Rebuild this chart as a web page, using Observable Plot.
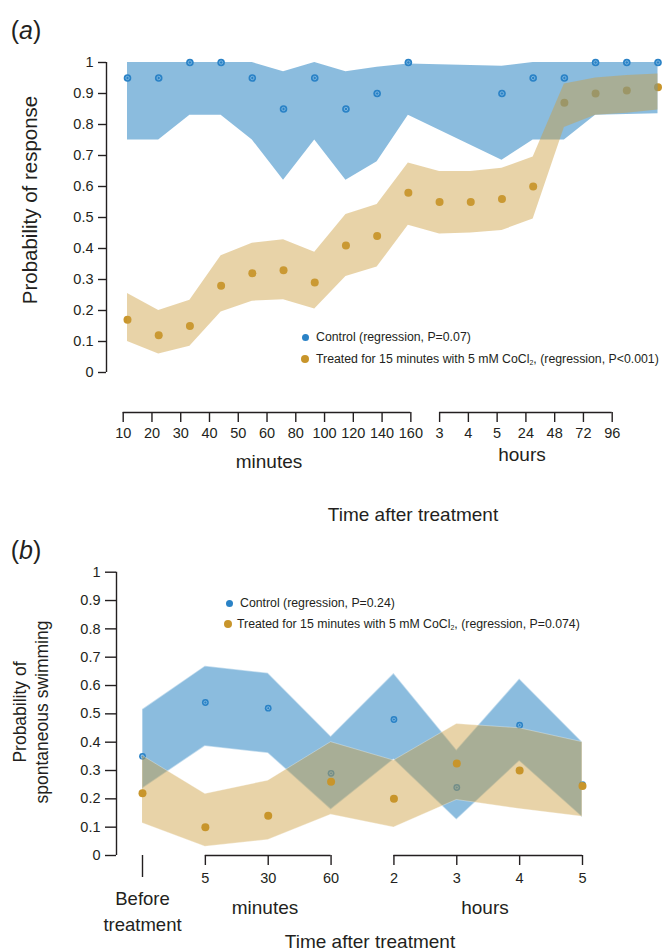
<!DOCTYPE html>
<html><head><meta charset="utf-8">
<script src="https://cdn.jsdelivr.net/npm/d3@7"></script>
<script src="https://cdn.jsdelivr.net/npm/@observablehq/plot@0.6"></script>
<style>
body{margin:0;background:#fff;}
#fig{position:relative;width:670px;height:952px;overflow:hidden;font-family:"Liberation Sans",Arial,Helvetica,sans-serif;color:#231f20;background:#fff;}
.lbl{position:absolute;transform:translate(-50%,-50%);white-space:nowrap;}
.ltxt{position:absolute;transform:translateY(-50%);white-space:nowrap;font-size:12.3px;}
.dot{position:absolute;border-radius:50%;}
.wrap{position:absolute;left:0;width:670px;}
.rot{position:absolute;transform:translate(-50%,-50%) rotate(-90deg);white-space:nowrap;text-align:center;}
sub{font-size:7px;vertical-align:-2px;line-height:0;}
</style></head><body><div id="fig"></div><script>
// ---------- Panel (a) data ----------
const keysA = ["10 min","20 min","30 min","40 min","50 min","60 min","80 min","100 min","120 min","140 min","160 min","3 h","4 h","5 h","24 h","48 h","72 h","96 h"];
const blueA   = [0.95,0.95,1.00,1.00,0.95,0.85,0.95,0.85,0.90,1.00,null,null,0.90,0.95,0.95,1.00,1.00,1.00];
const blueLoA = [0.75,0.75,0.83,0.83,0.75,0.62,0.75,0.62,0.68,0.83,null,null,0.685,0.75,0.75,0.83,0.832,0.835];
const blueHiA = [1.00,1.00,1.00,1.00,1.00,0.97,1.00,0.97,0.985,0.995,null,null,0.988,1.00,1.00,1.00,1.00,1.00];
const goldA   = [0.17,0.12,0.15,0.28,0.32,0.33,0.29,0.41,0.44,0.58,0.55,0.55,0.56,0.60,0.87,0.90,0.91,0.92];
const goldLoA = [0.10,0.06,0.085,0.195,0.23,0.235,0.205,0.31,0.34,0.475,0.447,0.45,0.458,0.495,0.79,0.83,0.836,0.847];
const goldHiA = [0.255,0.20,0.233,0.377,0.417,0.428,0.388,0.51,0.542,0.676,0.648,0.648,0.659,0.695,0.931,0.95,0.958,0.963];
const minutesA = ["10","20","30","40","50","60","80","100","120","140","160"];
const hoursA = ["3","4","5","24","48","72","96"];
const yTicks = [0,0.1,0.2,0.3,0.4,0.5,0.6,0.7,0.8,0.9,1];

// ---------- Panel (b) data ----------
const keysB = ["Before","5 min","30 min","60 min","2 h","3 h","4 h","5 h"];
const tickLabelsB = ["Before\ntreatment","5","30","60","2","3","4","5"];
const blueB   = [0.35,0.54,0.52,0.29,0.48,0.24,0.46,0.25];
const blueLoB = [0.235,0.385,0.36,0.161,0.338,0.125,0.332,0.134];
const blueHiB = [0.515,0.668,0.643,0.42,0.642,0.372,0.623,0.40];
const goldB   = [0.22,0.10,0.14,0.26,0.20,0.325,0.30,0.245];
const goldLoB = [0.114,0.031,0.055,0.144,0.099,0.196,0.164,0.137];
const goldHiB = [0.352,0.217,0.264,0.40,0.335,0.464,0.449,0.40];

// ---------- styles ----------
const ink = "#231f20";
const blueBand = "#3e8fc8", goldBand = "#cc9e3e";
const bluePt = "#2a82c6", bluePtIn = "#8cc0e6", goldPt = "#c8952b";
const fmt = d => (d === 0 || d === 1) ? String(d) : d.toFixed(1);
const font = {fontFamily: "Liberation Sans, Arial, sans-serif"};

const fig = document.getElementById("fig");
function place(el, top) {
  const w = document.createElement("div");
  w.className = "wrap"; w.style.top = top + "px";
  el.style.background = "transparent";
  w.appendChild(el); fig.appendChild(w);
}
function html(s) { fig.insertAdjacentHTML("beforeend", s); }

// ---------- Panel (a) ----------
const tableA = keysA.map((k, i) => ({k, blue: blueA[i], blueLo: blueLoA[i], blueHi: blueHiA[i], gold: goldA[i], goldLo: goldLoA[i], goldHi: goldHiA[i]}));
const blueRowsA = tableA.filter(d => d.blue != null);

place(Plot.plot({
  width: 670, height: 400,
  marginTop: 62, marginBottom: 28, marginLeft: 106, marginRight: 12.5, insetLeft: 21,
  x: {type: "point", domain: keysA, padding: 0, round: false, axis: null},
  y: {domain: [0, 1]},
  style: font,
  marks: [
    Plot.dot(tableA, {x: "k", y: "gold", r: 4, fill: goldPt}),
    Plot.areaY(blueRowsA, {x: "k", y1: "blueLo", y2: "blueHi", fill: blueBand, fillOpacity: 0.6}),
    Plot.dot(blueRowsA, {x: "k", y: "blue", r: 3.8, fill: bluePt}),
    Plot.dot(blueRowsA, {x: "k", y: "blue", r: 1.7, stroke: bluePtIn, strokeWidth: 0.8}),
    Plot.areaY(tableA, {x: "k", y1: "goldLo", y2: "goldHi", fill: goldBand, fillOpacity: 0.45}),
    Plot.ruleX([keysA[0]], {y1: 0, y2: 1, dx: -21, stroke: ink, strokeWidth: 1.4}),
    Plot.axisY(yTicks, {tickSize: 8, tickPadding: 5, tickFormat: fmt, fontSize: 14.5, stroke: ink, fill: ink, strokeWidth: 1.4, label: null})
  ]
}), 0);

const groupsA = [{from: minutesA[0], to: minutesA[minutesA.length - 1]}, {from: hoursA[0], to: hoursA[hoursA.length - 1]}];
place(Plot.plot({
  width: 670, height: 60,
  marginTop: 0, marginBottom: 38, marginLeft: 122.7, marginRight: 58.3,
  x: {type: "point", domain: [...minutesA, ...hoursA], padding: 0, round: false},
  y: {domain: [0, 1], axis: null},
  style: font,
  marks: [
    Plot.ruleY(groupsA, {x1: "from", x2: "to", y: 0, stroke: ink, strokeWidth: 1.4}),
    Plot.axisX({tickSize: 10, tickPadding: 5, fontSize: 14.5, stroke: ink, fill: ink, strokeWidth: 1.4, label: null})
  ]
}), 390);

html(`<div class="lbl" style="left:26px;top:30px;font-size:25px;">(<i>a</i>)</div>`);
html(`<div class="rot" style="left:30px;top:200px;font-size:20.5px;">Probability of response</div>`);
html(`<div class="lbl" style="left:269px;top:462px;font-size:19px;">minutes</div>`);
html(`<div class="lbl" style="left:522px;top:455px;font-size:19px;">hours</div>`);
html(`<div class="lbl" style="left:413px;top:515px;font-size:19px;">Time after treatment</div>`);
html(`<div class="dot" style="left:301.5px;top:333.5px;width:7px;height:7px;background:${bluePt};"></div>`);
html(`<div class="ltxt" style="left:316px;top:337px;">Control (regression, P=0.07)</div>`);
html(`<div class="dot" style="left:301px;top:354.5px;width:8px;height:8px;background:${goldPt};"></div>`);
html(`<div class="ltxt" style="left:316px;top:359px;">Treated for 15 minutes with 5 mM CoCl<sub>2</sub>, (regression, P&lt;0.001)</div>`);

// ---------- Panel (b) ----------
const tableB = keysB.map((k, i) => ({k, blue: blueB[i], blueLo: blueLoB[i], blueHi: blueHiB[i], gold: goldB[i], goldLo: goldLoB[i], goldHi: goldHiB[i], label: tickLabelsB[i]}));
const groupsB = [{from: keysB[1], to: keysB[3]}, {from: keysB[4], to: keysB[7]}];
const labelOf = new Map(keysB.map((k, i) => [k, tickLabelsB[i]]));

place(Plot.plot({
  width: 670, height: 412,
  marginTop: 31.7, marginBottom: 97, marginLeft: 116, marginRight: 88, insetLeft: 26,
  x: {type: "point", domain: keysB, padding: 0, round: false},
  y: {domain: [0, 1]},
  style: font,
  marks: [
    Plot.areaY(tableB, {x: "k", y1: "blueLo", y2: "blueHi", fill: blueBand, fillOpacity: 0.6, stroke: "white", strokeOpacity: 0.45, strokeWidth: 1.5}),
    Plot.dot(tableB, {x: "k", y: "blue", r: 3.4, fill: bluePt}),
    Plot.dot(tableB, {x: "k", y: "blue", r: 1.5, stroke: bluePtIn, strokeWidth: 0.8}),
    Plot.areaY(tableB, {x: "k", y1: "goldLo", y2: "goldHi", fill: goldBand, fillOpacity: 0.45, stroke: "white", strokeOpacity: 0.3, strokeWidth: 1}),
    Plot.dot(tableB, {x: "k", y: "gold", r: 4, fill: goldPt}),
    Plot.ruleX([keysB[0]], {y1: 0, y2: 1, dx: -26, stroke: ink, strokeWidth: 1.4}),
    Plot.axisY(yTicks, {tickSize: 11, tickPadding: 5, tickFormat: fmt, fontSize: 14.5, stroke: ink, fill: ink, strokeWidth: 1.4, label: null}),
    Plot.ruleY(groupsB, {x1: "from", x2: "to", y: 0, stroke: ink, strokeWidth: 1.4}),
    Plot.axisX(keysB.slice(1), {tickSize: 10, tickPadding: 7, fontSize: 14.5, tickFormat: k => labelOf.get(k), stroke: ink, fill: ink, strokeWidth: 1.4, label: null}),
    Plot.axisX([keysB[0]], {tickSize: 22, tickFormat: () => "", stroke: ink, strokeWidth: 1.4, label: null}),
    Plot.text([tableB[0]], {x: "k", text: "label", frameAnchor: "bottom", dy: 32, lineAnchor: "top", lineHeight: 1.36, fontSize: 18.5, fill: ink})
  ]
}), 540);

html(`<div class="lbl" style="left:26px;top:550px;font-size:25px;">(<i>b</i>)</div>`);
html(`<div class="rot" style="left:31px;top:712px;font-size:17.5px;line-height:22px;">Probability of<br>spontaneous swimming</div>`);
html(`<div class="lbl" style="left:265px;top:908px;font-size:19px;">minutes</div>`);
html(`<div class="lbl" style="left:485px;top:908px;font-size:19px;">hours</div>`);
html(`<div class="lbl" style="left:370px;top:942px;font-size:19px;">Time after treatment</div>`);
html(`<div class="dot" style="left:225.5px;top:599.5px;width:7px;height:7px;background:${bluePt};"></div>`);
html(`<div class="ltxt" style="left:240px;top:603px;">Control (regression, P=0.24)</div>`);
html(`<div class="dot" style="left:224px;top:620px;width:8px;height:8px;background:${goldPt};"></div>`);
html(`<div class="ltxt" style="left:237px;top:624px;">Treated for 15 minutes with 5 mM CoCl<sub>2</sub>, (regression, P=0.074)</div>`);
</script></body></html>
